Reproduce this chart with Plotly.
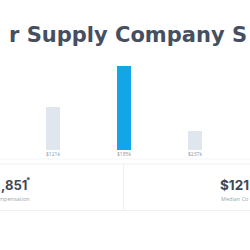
import plotly.graph_objects as go

categories = ["p25", "median", "p75"]
bar_values = [43, 84, 19]
bar_labels = ["$121k", "$185k", "$237k"]
bar_colors = ["#dfe6ee", "#13a5e8", "#dfe6ee"]

title_text = "r Supply Company S"
left_stat = ",851"
left_caption = "mpensation"
right_stat = "$121"
right_caption = "Median Co"

W = H = 250
xs = [0, 1, 2]

fig = go.Figure()
fig.add_trace(go.Bar(
    x=xs, y=bar_values, marker=dict(color=bar_colors, line=dict(width=0)),
    width=0.197, hoverinfo="skip", showlegend=False,
))

for xi, lab in zip(xs, bar_labels):
    fig.add_annotation(x=xi, y=-4, xref="x", yref="y", text=lab, showarrow=False,
                       font=dict(family="Open Sans", size=5, color="#8a94a3"),
                       xanchor="center", yanchor="middle")

def px_x(p):
    return p / W

def px_y(p):
    return 1 - p / H

line_col = "#eef1f4"
shapes = [
    dict(type="line", xref="paper", yref="paper", x0=0, x1=1, y0=px_y(159), y1=px_y(159),
         line=dict(color="#f3f5f7", width=1)),
    dict(type="line", xref="paper", yref="paper", x0=0, x1=1, y0=px_y(164), y1=px_y(164),
         line=dict(color=line_col, width=1)),
    dict(type="line", xref="paper", yref="paper", x0=px_x(123.5), x1=px_x(123.5), y0=px_y(164), y1=px_y(210),
         line=dict(color=line_col, width=1)),
    dict(type="line", xref="paper", yref="paper", x0=0, x1=1, y0=px_y(210.5), y1=px_y(210.5),
         line=dict(color=line_col, width=1)),
]

fig.add_annotation(x=px_x(7), y=px_y(35), xref="paper", yref="paper", text=title_text,
                   showarrow=False, xanchor="left", yanchor="middle",
                   font=dict(family="DejaVu Sans", size=21, color="#464f5f", weight="bold"))

fig.add_annotation(x=px_x(-1), y=px_y(185), xref="paper", yref="paper",
                   text=left_stat, showarrow=False, xanchor="left", yanchor="middle",
                   font=dict(family="Inter", size=13, color="#3f4856", weight="bold"))
fig.add_annotation(x=px_x(23.5), y=px_y(180), xref="paper", yref="paper",
                   text="*", showarrow=False, xanchor="left", yanchor="middle",
                   font=dict(family="Inter", size=8, color="#3f4856", weight="bold"))
fig.add_annotation(x=px_x(32), y=px_y(199), xref="paper", yref="paper",
                   text=left_caption, showarrow=False, xanchor="right", yanchor="middle",
                   font=dict(family="Open Sans", size=5.5, color="#9aa6b5"))
fig.add_annotation(x=px_x(251), y=px_y(185), xref="paper", yref="paper",
                   text=right_stat, showarrow=False, xanchor="right", yanchor="middle",
                   font=dict(family="Inter", size=13.5, color="#3f4856", weight="bold"))
fig.add_annotation(x=px_x(251), y=px_y(199), xref="paper", yref="paper",
                   text=right_caption, showarrow=False, xanchor="right", yanchor="middle",
                   font=dict(family="Open Sans", size=5.5, color="#9aa6b5"))

fig.update_layout(
    width=W, height=H, margin=dict(l=0, r=0, t=0, b=0),
    paper_bgcolor="white", plot_bgcolor="white",
    xaxis=dict(range=[-53 / 71, 197 / 71], visible=False, fixedrange=True),
    yaxis=dict(range=[-100, 150], visible=False, fixedrange=True),
    shapes=shapes, bargap=0,
)

fig.write_html("out.html", config={"displayModeBar": False})
